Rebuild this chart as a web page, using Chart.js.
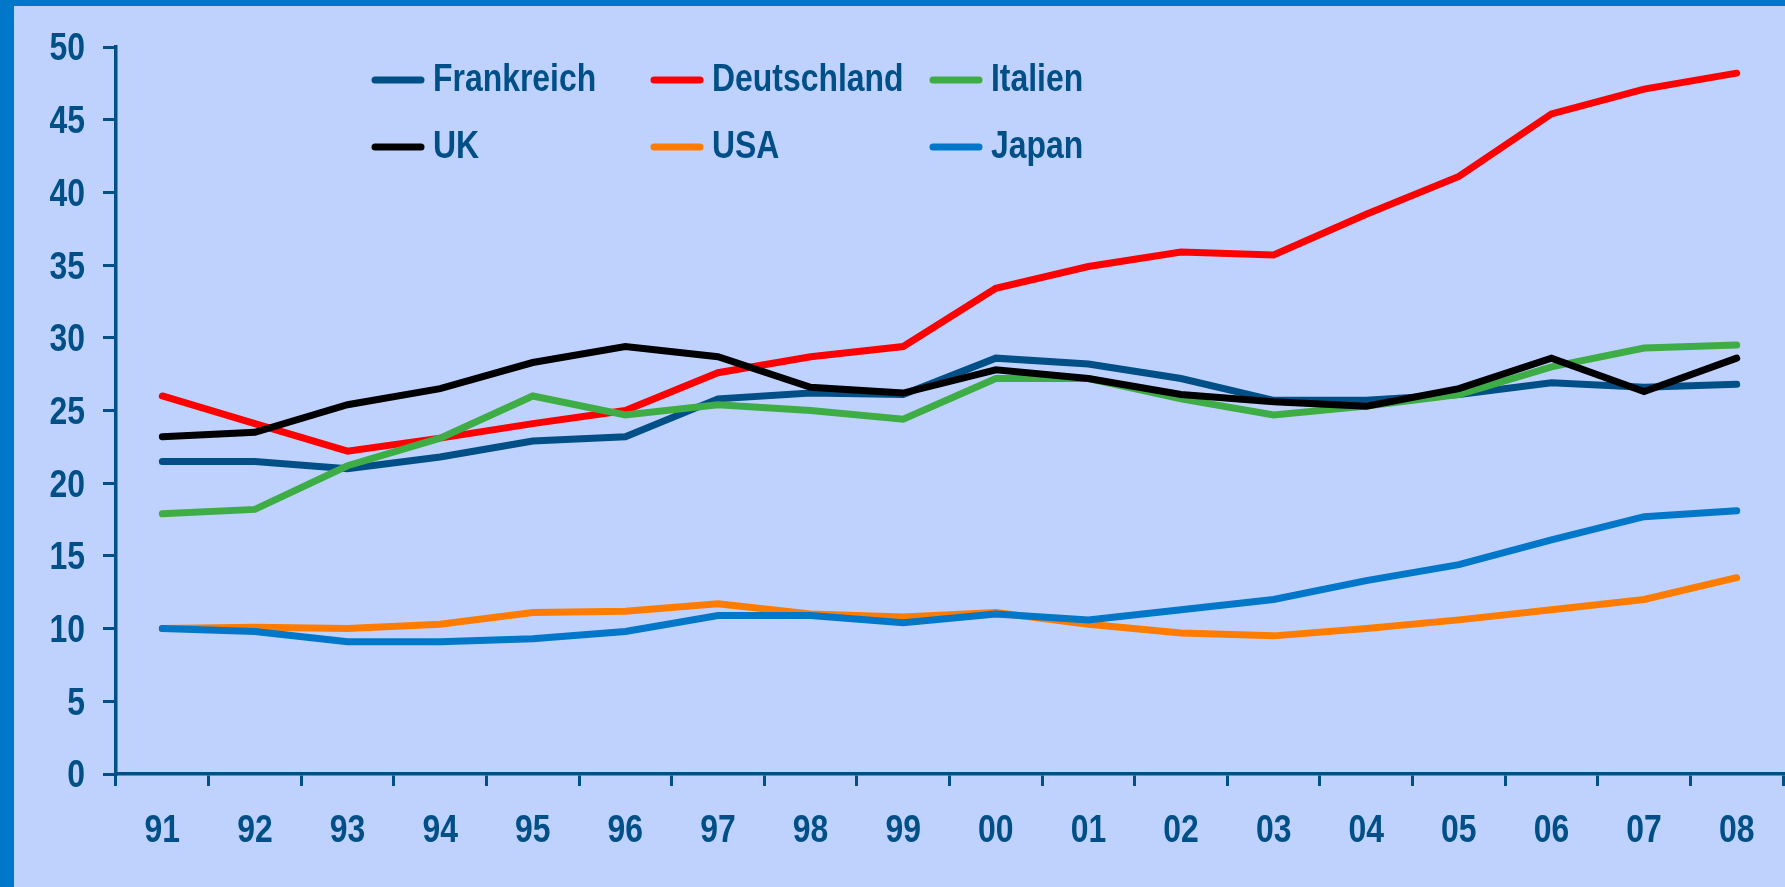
<!DOCTYPE html>
<html>
<head>
<meta charset="utf-8">
<script src="https://cdn.jsdelivr.net/npm/chart.js@4"></script>
<style>
  html, body { margin: 0; padding: 0; }
  body { background: #0077c8; width: 1785px; height: 887px; overflow: hidden; position: relative; }
  #canvasDiv { position: absolute; left: 14px; top: 6px; width: 1771px; height: 881px; background: #bfd2fe; }
</style>
</head>
<body>
<div id="canvasDiv"><canvas id="myChart"></canvas></div>
<script>
// years on the x axis
var years = ['91','92','93','94','95','96','97','98','99','00','01','02','03','04','05','06','07','08'];

var frankreich  = [21.5, 21.5, 21.0, 21.8, 22.9, 23.2, 25.8, 26.2, 26.1, 28.6, 28.2, 27.2, 25.7, 25.7, 26.1, 26.9, 26.6, 26.8];
var deutschland = [26.0, 24.1, 22.2, 23.1, 24.1, 25.0, 27.6, 28.7, 29.4, 33.4, 34.9, 35.9, 35.7, 38.5, 41.1, 45.4, 47.1, 48.2];
var italien     = [17.9, 18.2, 21.2, 23.1, 26.0, 24.7, 25.4, 25.0, 24.4, 27.2, 27.2, 25.8, 24.7, 25.3, 26.1, 28.0, 29.3, 29.5];
var uk          = [23.2, 23.5, 25.4, 26.5, 28.3, 29.4, 28.7, 26.6, 26.2, 27.8, 27.2, 26.1, 25.6, 25.3, 26.5, 28.6, 26.3, 28.6];
var usa         = [10.0, 10.1, 10.0, 10.3, 11.1, 11.2, 11.7, 11.0, 10.8, 11.1, 10.3, 9.7, 9.5, 10.0, 10.6, 11.3, 12.0, 13.5];
var japan       = [10.0, 9.8, 9.1, 9.1, 9.3, 9.8, 10.9, 10.9, 10.4, 11.0, 10.6, 11.3, 12.0, 13.3, 14.4, 16.1, 17.7, 18.1];

var seriesNames = ['Frankreich', 'Deutschland', 'Italien', 'UK', 'USA', 'Japan'];
var seriesColors = ['#004f86', '#ff0000', '#3fad46', '#000000', '#ff7c00', '#0077c8'];
var seriesData = [frankreich, deutschland, italien, uk, usa, japan];

var textColor = '#004f86';
var fontFamily = '"Liberation Sans", Arial, sans-serif';
var squeeze = 0.84; // no narrow font installed, so squeeze bold Liberation Sans

function narrowText(ctx, text, x, y, align) {
    ctx.save();
    ctx.translate(x, y);
    ctx.scale(squeeze, 1);
    ctx.textAlign = align;
    ctx.fillText(text, 0, 0);
    ctx.restore();
}

// tick labels drawn condensed, at the positions the scales give
var narrowTicks = {
    id: 'narrowTicks',
    afterDraw: function(chart) {
        var ctx = chart.ctx;
        var xs = chart.scales.x, ys = chart.scales.y;
        ctx.save();
        ctx.font = 'bold 38px ' + fontFamily;
        ctx.fillStyle = textColor;
        ctx.textBaseline = 'middle';
        ys.ticks.forEach(function(t, i) {
            narrowText(ctx, String(t.value), 71, ys.getPixelForTick(i) + 3, 'right');
        });
        xs.ticks.forEach(function(t, i) {
            narrowText(ctx, chart.data.labels[t.value], xs.getPixelForTick(i), xs.bottom - 55, 'center');
        });
        ctx.restore();
    }
};

// legend sits inside the plot, 3 columns x 2 rows
var legendInside = {
    id: 'legendInside',
    afterDraw: function(chart) {
        var ctx = chart.ctx;
        ctx.save();
        ctx.font = 'bold 38px ' + fontFamily;
        ctx.textBaseline = 'middle';
        chart.data.datasets.forEach(function(ds, i) {
            var x = 361 + (i % 3) * 279;
            var y = 74 + Math.floor(i / 3) * 67;
            ctx.strokeStyle = ds.borderColor;
            ctx.lineWidth = 7;
            ctx.lineCap = 'round';
            ctx.beginPath();
            ctx.moveTo(x, y);
            ctx.lineTo(x + 46, y);
            ctx.stroke();
            ctx.fillStyle = textColor;
            narrowText(ctx, ds.label, x + 58, y + 1, 'left');
        });
        ctx.restore();
    }
};

var ctx = document.getElementById('myChart');
new Chart(ctx, {
    type: 'line',
    data: {
        labels: years,
        datasets: seriesData.map(function(d, i) {
            return {
                label: seriesNames[i],
                data: d,
                borderColor: seriesColors[i],
                backgroundColor: seriesColors[i],
                borderWidth: 7,
                pointRadius: 0,
                tension: 0,
                borderCapStyle: 'round',
                borderJoinStyle: 'miter',
                order: 6 - i
            };
        })
    },
    options: {
        responsive: true,
        maintainAspectRatio: false,
        animation: false,
        layout: { padding: { top: 41, right: 2, left: 0, bottom: 0 } },
        plugins: {
            legend: { display: false },
            tooltip: { enabled: false }
        },
        scales: {
            x: {
                offset: true,
                grid: { display: true, drawOnChartArea: false, tickLength: 12, color: textColor, lineWidth: 3, offset: true },
                border: { color: textColor, width: 3.5 },
                ticks: { display: false, autoSkip: false },
                afterFit: function(scale) { scale.height = 113; }
            },
            y: {
                min: 0,
                max: 50,
                ticks: { display: false, stepSize: 5 },
                grid: { display: true, drawOnChartArea: false, tickLength: 13, color: textColor, lineWidth: 3 },
                border: { color: textColor, width: 3.5 },
                afterFit: function(scale) { scale.width = 102; }
            }
        }
    },
    plugins: [narrowTicks, legendInside]
});
</script>
</body>
</html>
